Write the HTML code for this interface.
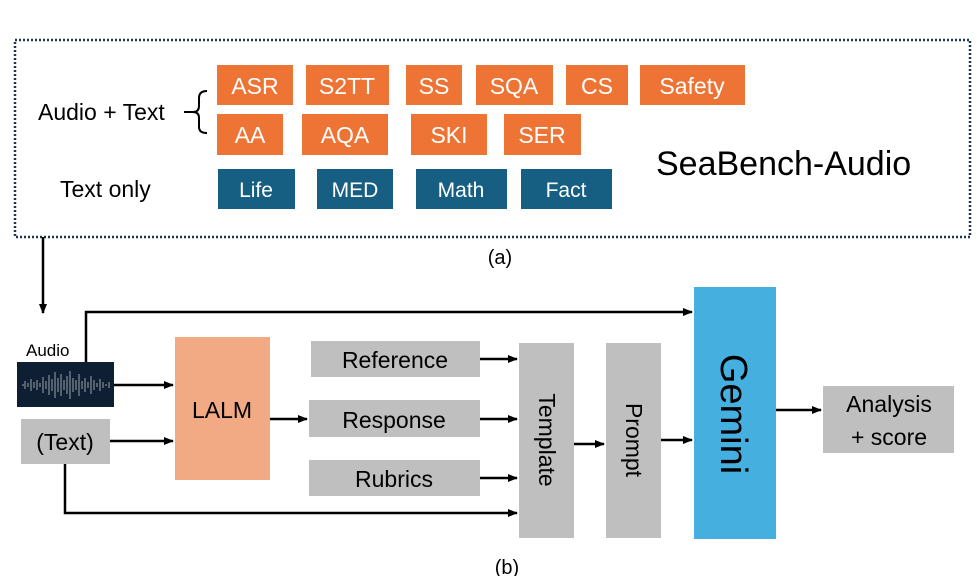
<!DOCTYPE html>
<html><head><meta charset="utf-8"><style>
html,body{margin:0;padding:0;background:#fff;}
svg{display:block;font-family:"Liberation Sans",sans-serif;}
</style></head><body>
<svg width="977" height="576" viewBox="0 0 977 576" xmlns="http://www.w3.org/2000/svg">
<defs>
<marker id="a" markerWidth="10" markerHeight="10" refX="9" refY="5" orient="auto" markerUnits="userSpaceOnUse">
<path d="M0,1 L10,5 L0,9 Z" fill="#000"/></marker>
</defs>
<rect x="15" y="40" width="955" height="197" fill="none" stroke="#1f3550" stroke-width="2.5" stroke-dasharray="2,2"/>
<g font-size="23" fill="#fff" text-anchor="middle">
<rect x="217" y="65" width="76" height="40" fill="#ED7434"/><text x="255" y="94">ASR</text>
<rect x="306" y="65" width="83" height="40" fill="#ED7434"/><text x="347" y="94">S2TT</text>
<rect x="406" y="65" width="56" height="40" fill="#ED7434"/><text x="434" y="94">SS</text>
<rect x="476" y="65" width="77" height="40" fill="#ED7434"/><text x="514" y="94">SQA</text>
<rect x="566" y="65" width="62" height="40" fill="#ED7434"/><text x="597" y="94">CS</text>
<rect x="640" y="65" width="105" height="40" fill="#ED7434"/><text x="692" y="94">Safety</text>
<rect x="217" y="114" width="66" height="41" fill="#ED7434"/><text x="250" y="143">AA</text>
<rect x="302" y="114" width="86" height="41" fill="#ED7434"/><text x="345" y="143">AQA</text>
<rect x="411" y="114" width="76" height="41" fill="#ED7434"/><text x="449" y="143">SKI</text>
<rect x="504" y="114" width="77" height="41" fill="#ED7434"/><text x="542" y="143">SER</text>
</g>
<g font-size="21" fill="#fff" text-anchor="middle">
<rect x="218" y="169" width="77" height="40" fill="#175F82"/><text x="256" y="197">Life</text>
<rect x="317" y="169" width="76" height="40" fill="#175F82"/><text x="355" y="197">MED</text>
<rect x="416" y="169" width="91" height="40" fill="#175F82"/><text x="461" y="197">Math</text>
<rect x="521" y="169" width="91" height="40" fill="#175F82"/><text x="566" y="197">Fact</text>
</g>
<text x="38" y="120" font-size="23">Audio + Text</text>
<path d="M207,91 Q199,91 199,98 L199,106 Q199,112 193,112 Q199,112 199,118 L199,127 Q199,133 207,133" fill="none" stroke="#000" stroke-width="2"/>
<line x1="184" y1="112" x2="194" y2="112" stroke="#000" stroke-width="2"/>
<text x="60" y="197" font-size="23">Text only</text>
<text x="656" y="175" font-size="34">SeaBench-Audio</text>
<text x="500" y="264" font-size="20" text-anchor="middle">(a)</text>

<g stroke="#000" stroke-width="2.5" fill="none">
<line x1="43" y1="237" x2="43" y2="313" marker-end="url(#a)"/>
<polyline points="86,362 86,312 692,312" marker-end="url(#a)"/>
<polyline points="65,464 65,513 517,513" marker-end="url(#a)"/>
<line x1="114" y1="385" x2="173" y2="385" marker-end="url(#a)"/>
<line x1="110" y1="441" x2="173" y2="441" marker-end="url(#a)"/>
<line x1="270" y1="419" x2="307" y2="419" marker-end="url(#a)"/>
<line x1="480" y1="359" x2="517" y2="359" marker-end="url(#a)"/>
<line x1="480" y1="419" x2="517" y2="419" marker-end="url(#a)"/>
<line x1="480" y1="478" x2="517" y2="478" marker-end="url(#a)"/>
<line x1="574" y1="444" x2="604" y2="444" marker-end="url(#a)"/>
<line x1="661" y1="440" x2="692" y2="440" marker-end="url(#a)"/>
<line x1="776" y1="410" x2="821" y2="410" marker-end="url(#a)"/>
</g>

<text x="26" y="356" font-size="17">Audio</text>
<rect x="17" y="362" width="97" height="45" fill="#0E1F33"/>
<g stroke="#9aa4ad" stroke-width="1">
<path d="M22,385 h2 M25,381v8 M28,383v4 M31,379v12 M34,382v6 M37,380v10 M40,383v4 M43,377v16 M46,381v8 M49,375v20 M52,379v12 M55,372v26 M58,378v14 M61,374v22 M64,380v10 M67,376v18 M70,371v28 M73,378v14 M76,380v10 M79,374v22 M82,381v8 M85,378v14 M88,382v6 M91,376v18 M94,380v10 M97,383v4 M100,379v12 M103,382v6 M106,384v2 M109,382v6"/>
</g>
<rect x="21" y="419" width="89" height="45" fill="#BFBFBF"/>
<text x="65" y="450" font-size="23" text-anchor="middle">(Text)</text>
<rect x="175" y="337" width="95" height="143" fill="#F2AA84"/>
<text x="222" y="418" font-size="23" text-anchor="middle">LALM</text>
<rect x="311" y="341" width="169" height="36" fill="#BFBFBF"/>
<text x="395" y="368" font-size="23" text-anchor="middle">Reference</text>
<rect x="309" y="400" width="171" height="37" fill="#BFBFBF"/>
<text x="394" y="428" font-size="23" text-anchor="middle">Response</text>
<rect x="309" y="460" width="171" height="36" fill="#BFBFBF"/>
<text x="394" y="487" font-size="23" text-anchor="middle">Rubrics</text>
<rect x="519" y="343" width="55" height="195" fill="#BFBFBF"/>
<text transform="translate(539,440) rotate(90)" font-size="23" text-anchor="middle">Template</text>
<rect x="606" y="343" width="55" height="195" fill="#BFBFBF"/>
<text transform="translate(626,440) rotate(90)" font-size="23" text-anchor="middle">Prompt</text>
<rect x="694" y="287" width="82" height="252" fill="#45AFE0"/>
<text transform="translate(721,414) rotate(90)" font-size="38" text-anchor="middle">Gemini</text>
<rect x="823" y="386" width="131" height="67" fill="#BFBFBF"/>
<text x="889" y="412" font-size="23" text-anchor="middle">Analysis</text>
<text x="889" y="445" font-size="23" text-anchor="middle">+ score</text>
<text x="507" y="574" font-size="20" text-anchor="middle">(b)</text>
</svg>
</body></html>
